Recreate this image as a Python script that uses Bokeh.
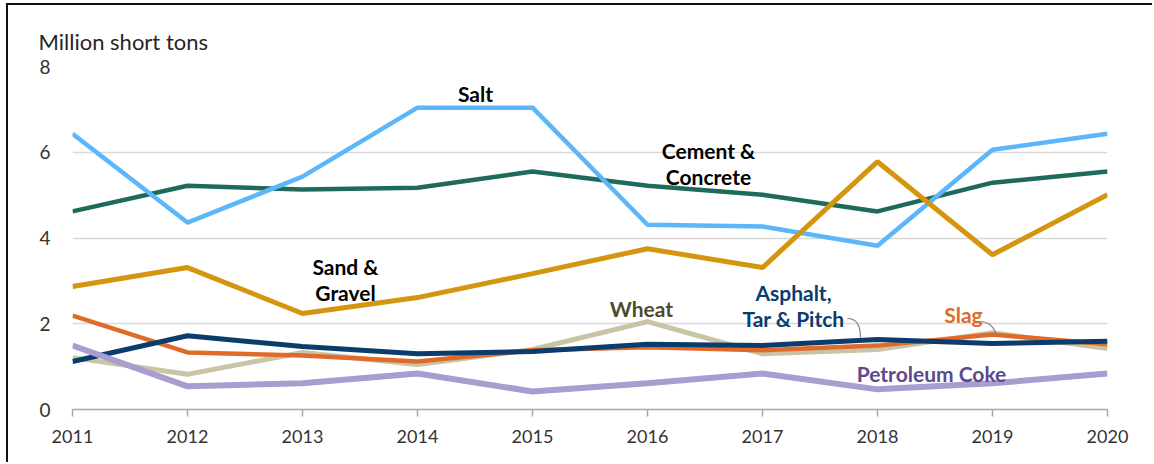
from bokeh.plotting import figure
from bokeh.models import Label, FixedTicker, Range1d
from bokeh.embed import file_html
from bokeh.resources import INLINE

years = [2011, 2012, 2013, 2014, 2015, 2016, 2017, 2018, 2019, 2020]
salt = [6.43, 4.36, 5.43, 7.04, 7.04, 4.31, 4.27, 3.82, 6.06, 6.43]
cement = [4.62, 5.22, 5.13, 5.17, 5.55, 5.22, 5.01, 4.62, 5.29, 5.55]
sand = [2.87, 3.31, 2.24, 2.61, 3.17, 3.75, 3.31, 5.78, 3.61, 5.01]
slag = [2.19, 1.33, 1.26, 1.12, 1.38, 1.45, 1.38, 1.49, 1.75, 1.52]
asphalt = [1.12, 1.72, 1.47, 1.30, 1.35, 1.52, 1.49, 1.63, 1.54, 1.59]
wheat = [1.21, 0.82, 1.33, 1.05, 1.40, 2.05, 1.30, 1.40, 1.79, 1.42]
petcoke = [1.49, 0.54, 0.61, 0.84, 0.42, 0.61, 0.84, 0.47, 0.61, 0.84]
y_ticks = [0, 2, 4, 6, 8]

FONT = "Lato"

p = figure(width=1146, height=459, output_backend="svg", toolbar_location=None,
           x_range=Range1d(2011, 2020), y_range=Range1d(0, 8),
           min_border_left=64, min_border_right=47, min_border_top=61, min_border_bottom=55)
p.styles = {"margin-left": "6px", "margin-top": "3px",
            "border-left": "2px solid #111", "border-top": "2px solid #111"}
p.outline_line_color = None
p.background_fill_color = "white"
p.border_fill_color = "white"

p.title.text = "Million short tons"
p.title.align = "left"
p.title.offset = -34
p.title.standoff = 23
p.title.text_font = FONT
p.title.text_font_size = "22px"
p.title.text_font_style = "normal"
p.title.text_color = "#262626"

# grid
p.xgrid.grid_line_color = None
p.ygrid.ticker = FixedTicker(ticks=[2, 4, 6, 8])
p.ygrid.grid_line_color = "#d9d9d9"
p.ygrid.grid_line_width = 1.5

# axes
p.yaxis.ticker = FixedTicker(ticks=y_ticks)
p.yaxis.axis_line_color = None
p.yaxis.major_tick_line_color = None
p.yaxis.minor_tick_line_color = None
p.yaxis.major_label_standoff = 16
p.yaxis.major_label_text_font = FONT
p.yaxis.major_label_text_font_size = "19px"
p.yaxis.major_label_text_color = "#333333"

p.xaxis.ticker = FixedTicker(ticks=years)
p.xaxis.axis_line_color = "#a6a6a6"
p.xaxis.axis_line_width = 1.5
p.xaxis.major_tick_line_color = "#a6a6a6"
p.xaxis.major_tick_line_width = 1.5
p.xaxis.major_tick_in = 0
p.xaxis.major_tick_out = 7
p.xaxis.minor_tick_line_color = None
p.xaxis.major_label_standoff = 13
p.xaxis.major_label_text_font = FONT
p.xaxis.major_label_text_font_size = "18px"
p.xaxis.major_label_text_color = "#333333"

# lines
p.line(years, wheat, line_color="#c9c4a4", line_width=5)
p.line(years, slag, line_color="#e06a2a", line_width=4.5)
p.line(years, asphalt, line_color="#0b3c6b", line_width=5)
p.line(years, petcoke, line_color="#a99ccf", line_width=6)
p.line(years, cement, line_color="#1e6b5c", line_width=4.5)
p.line(years, salt, line_color="#5cb6fa", line_width=4.5)
p.line(years, sand, line_color="#d4960f", line_width=5)


def dx(px):
    return 2011 + (px - 72) / 115


def dy(py):
    return (409 - py) / 42.875


# leader lines
p.bezier(x0=[dx(847)], y0=[dy(318)], x1=[dx(860)], y1=[dy(337)],
         cx0=[dx(858)], cy0=[dy(318)], cx1=[dx(860)], cy1=[dy(328)],
         line_color="#7f7f7f", line_width=1.2)
p.bezier(x0=[dx(979)], y0=[dy(321)], x1=[dx(996)], y1=[dy(335)],
         cx0=[dx(990)], cy0=[dy(321)], cx1=[dx(994)], cy1=[dy(328)],
         line_color="#7f7f7f", line_width=1.2)


def lab(text, px, py, color, size="21px"):
    p.add_layout(Label(x=dx(px), y=dy(py), text=text,
                       text_font=FONT, text_font_size=size, text_font_style="bold",
                       text_color=color, text_align="center", text_baseline="middle",
                       text_line_height=1.05))


lab("Salt", 475, 93, "#000000")
lab("Cement &\nConcrete", 708, 163, "#000000")
lab("Sand &\nGravel", 345, 279, "#000000")
lab("Wheat", 641, 308, "#4d4a30")
lab("Asphalt,\nTar & Pitch", 793, 305, "#0b3c6b")
lab("Slag", 963, 314, "#e06a2a")
lab("Petroleum Coke", 931, 373, "#5b4a8e")

open("out.html", "w").write(file_html(p, INLINE))
